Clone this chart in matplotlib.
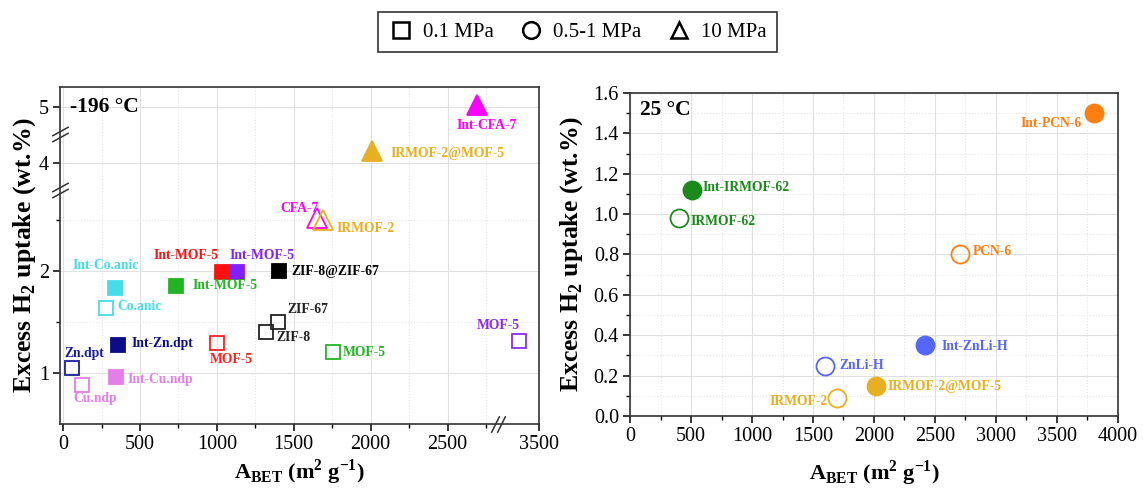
import numpy as np
import matplotlib
matplotlib.use('Agg')
import matplotlib.pyplot as plt
from matplotlib.lines import Line2D
from matplotlib.transforms import offset_copy

plt.rcParams['font.family'] = ['Liberation Serif', 'DejaVu Serif']
plt.rcParams['mathtext.fontset'] = 'custom'
plt.rcParams['mathtext.rm'] = 'Liberation Serif'
plt.rcParams['mathtext.bf'] = 'Liberation Serif:bold'

# -196 C data (left panel)
left_names = ['Zn.dpt', 'Int-Zn.dpt', 'Cu.ndp', 'Int-Cu.ndp', 'Co.anic', 'Int-Co.anic',
              'MOF-5', 'Int-MOF-5', 'Int-MOF-5', 'MOF-5', 'Int-MOF-5', 'MOF-5',
              'ZIF-8', 'ZIF-67', 'ZIF-8@ZIF-67',
              'CFA-7', 'Int-CFA-7', 'IRMOF-2', 'IRMOF-2@MOF-5']
left_bet = [58, 357, 123, 344, 279, 338,
            1000, 1032, 733, 1753, 1129, 3370,
            1318, 1395, 1402,
            1650, 2694, 1690, 2012]
left_uptake = [1.05, 1.28, 0.88, 0.96, 1.64, 1.84,
               1.30, 1.99, 1.86, 1.21, 1.99, 1.32,
               1.40, 1.50, 2.00,
               2.52, 5.02, 2.50, 4.12]
left_pressure = ['0.1'] * 15 + ['10'] * 4
left_filled = [False, True, False, True, False, True,
               False, True, True, False, True, False,
               False, False, True,
               False, True, False, True]

# 25 C data (right panel)
right_names = ['Int-PCN-6', 'PCN-6', 'Int-IRMOF-62', 'IRMOF-62',
               'Int-ZnLi-H', 'ZnLi-H', 'IRMOF-2@MOF-5', 'IRMOF-2']
right_bet = [3800, 2704, 507, 400, 2418, 1601, 2018, 1700]
right_uptake = [1.50, 0.80, 1.12, 0.98, 0.35, 0.25, 0.15, 0.09]
right_pressure = ['0.5-1'] * 8
right_filled = [True, False, True, False, True, False, True, False]

# styles
left_colors = ['#1c1ca0', '#0c0c8a', '#e47ee8', '#e47ee8', '#45dcea', '#45dcea',
               '#ff2020', '#ff1010', '#22b522', '#22b522', '#8020ff', '#8a2cf0',
               '#222222', '#222222', '#000000',
               '#ff00ff', '#ff00ff', '#e8b020', '#e8b020']
right_colors = ['#ff7f0e', '#ff7f0e', '#1a8a1a', '#1a8a1a',
                '#5566ff', '#5566ff', '#e8b020', '#e8b020']
markers = {'0.1': 's', '0.5-1': 'o', '10': '^'}
msizes = {'0.1': 10, '0.5-1': 13, '10': 15}

# label offsets in pixels (dx, dy, ha)
left_offsets = [(-8, 15, 'left'), (14, 1, 'left'), (-9, -13, 'left'), (12, -2, 'left'),
                (11, 1, 'left'), (-9, 22, 'center'),
                (-7, -17, 'left'), (-36, 17, 'center'), (17, 0, 'left'), (10, -1, 'left'),
                (25, 17, 'center'), (-21, 15, 'center'),
                (11, -5, 'left'), (10, 13, 'left'), (13, 0, 'left'),
                (2, 10, 'right'), (9, -20, 'center'), (14, -8, 'left'), (18, -2, 'left')]
right_offsets = [(-12, -10, 'right'), (13, 3, 'left'), (11, 2, 'left'), (12, -3, 'left'),
                 (17, -1, 'left'), (14, 0, 'left'), (11, -1, 'left'), (-10, -4, 'right')]

# broken-axis scale for the left panel
y_gaps = [(2.8, 3.74), (4.29, 4.74)]
x_gaps = [(2825, 3230)]


def make_scale(gaps):
    def fwd(v):
        v = np.asarray(v, dtype=float)
        out = v.copy()
        for a, b in gaps:
            out = out - np.clip(v - a, 0, b - a)
        return out

    def inv(c):
        c = np.asarray(c, dtype=float)
        out = c.copy()
        shift = 0
        for a, b in gaps:
            out = np.where(c > a - shift, out + (b - a), out)
            shift += b - a
        return out
    return fwd, inv


fig = plt.figure(figsize=(11.43, 4.92), dpi=100)
axL = fig.add_axes([0.0525, 0.1382, 0.4191, 0.685])
axR = fig.add_axes([0.5512, 0.1545, 0.4269, 0.6565])

axL.set_yscale('function', functions=make_scale(y_gaps))
axL.set_xscale('function', functions=make_scale(x_gaps))


def draw(ax, names, bet, up, pres, filled, colors, offsets):
    for i in range(len(names)):
        c = colors[i]
        ax.plot(bet[i], up[i], ls='none', marker=markers[pres[i]], ms=msizes[pres[i]],
                mfc=c if filled[i] else 'none', mec=c, mew=1.3, zorder=3)
        dx, dy, ha = offsets[i]
        ax.annotate(names[i], (bet[i], up[i]), xytext=(dx, dy), textcoords='offset pixels',
                    ha=ha, va='center', color=c, fontsize=9.8, fontweight='bold', zorder=4)


draw(axL, left_names, left_bet, left_uptake, left_pressure, left_filled, left_colors, left_offsets)
draw(axR, right_names, right_bet, right_uptake, right_pressure, right_filled, right_colors, right_offsets)

axL.set_xlim(-20, 3500)
axL.set_ylim(0.5, 5.2)
axL.set_xticks([0, 500, 1000, 1500, 2000, 2500, 3500])
axL.set_xticks([250, 750, 1250, 1750, 2250, 2750], minor=True)
axL.set_yticks([1, 2, 4, 5])
axL.set_yticks([1.5, 2.5], minor=True)
axL.set_xticklabels(['0', '500', '1000', '1500', '2000', '2500', '3500'])
axL.set_yticklabels(['1', '2', '4', '5'])

axR.set_xlim(0, 4000)
axR.set_ylim(0, 1.6)
axR.set_xticks(np.arange(0, 4001, 500))
axR.set_xticks(np.arange(250, 4000, 500), minor=True)
axR.set_yticks(np.arange(0, 1.61, 0.2))
axR.set_yticks(np.arange(0.1, 1.6, 0.2), minor=True)
axR.set_yticklabels([f'{v:.1f}' for v in np.arange(0, 1.61, 0.2)])

for ax in (axL, axR):
    ax.grid(which='major', color='#e0e0e0', lw=0.8, zorder=0)
    ax.grid(which='minor', color='#e4e4e4', lw=0.8, ls=':', zorder=0)
    ax.set_axisbelow(True)
    ax.tick_params(which='major', direction='out', length=5, width=1.1, labelsize=14.5, pad=3)
    ax.tick_params(which='minor', direction='out', length=3, width=1.0)
    for s in ax.spines.values():
        s.set_linewidth(1.2)
        s.set_color('#333333')
    ax.set_xlabel(r'A$_{\mathbf{BET}}$ (m$^{\mathbf{2}}$ g$^{\mathbf{-1}}$)', fontsize=16, fontweight='bold')
    ax.set_ylabel(r'Excess H$_{\mathbf{2}}$ uptake (wt.%)', fontsize=18.5, fontweight='bold')

axL.xaxis.set_label_coords(0.5, -0.10)
axR.xaxis.set_label_coords(0.5, -0.13)
axL.yaxis.set_label_coords(-0.046, 0.5)
axR.yaxis.set_label_coords(-0.092, 0.5)

axL.text(0.021, 0.94, '-196 °C', transform=axL.transAxes, fontsize=15.5, fontweight='bold', va='center')
axR.text(0.02, 0.947, '25 °C', transform=axR.transAxes, fontsize=15.5, fontweight='bold', va='center')

# break marks
for a, b in y_gaps:
    for d in (-3, 3):
        tr = offset_copy(axL.get_yaxis_transform(), fig=fig, x=0, y=d, units='dots')
        axL.plot([0], [a], ls='none', marker=[(-1, -0.55), (1, 0.55)], ms=12,
                 mec='#333333', mew=1.1, transform=tr, clip_on=False, zorder=5)
for a, b in x_gaps:
    for d in (-3, 3):
        tr = offset_copy(axL.get_xaxis_transform(), fig=fig, x=d, y=0, units='dots')
        axL.plot([a], [0], ls='none', marker=[(-0.5, -1), (0.5, 1)], ms=12,
                 mec='#333333', mew=1.1, transform=tr, clip_on=False, zorder=5)

# legend
handles = [Line2D([], [], ls='none', marker=markers[p], ms=12, mfc='none', mec='k', mew=1.8,
                  label=f'{p} MPa') for p in ['0.1', '0.5-1', '10']]
leg = fig.legend(handles=handles, loc='upper center', bbox_to_anchor=(0.5052, 0.9756), ncol=3,
                 fontsize=15, frameon=True, fancybox=False, edgecolor='black',
                 handletextpad=0.45, columnspacing=1.2, borderpad=0.5, handlelength=1.2,
                 borderaxespad=0)
leg.get_frame().set_linewidth(1.2)

fig.savefig('out.png', dpi=100)
